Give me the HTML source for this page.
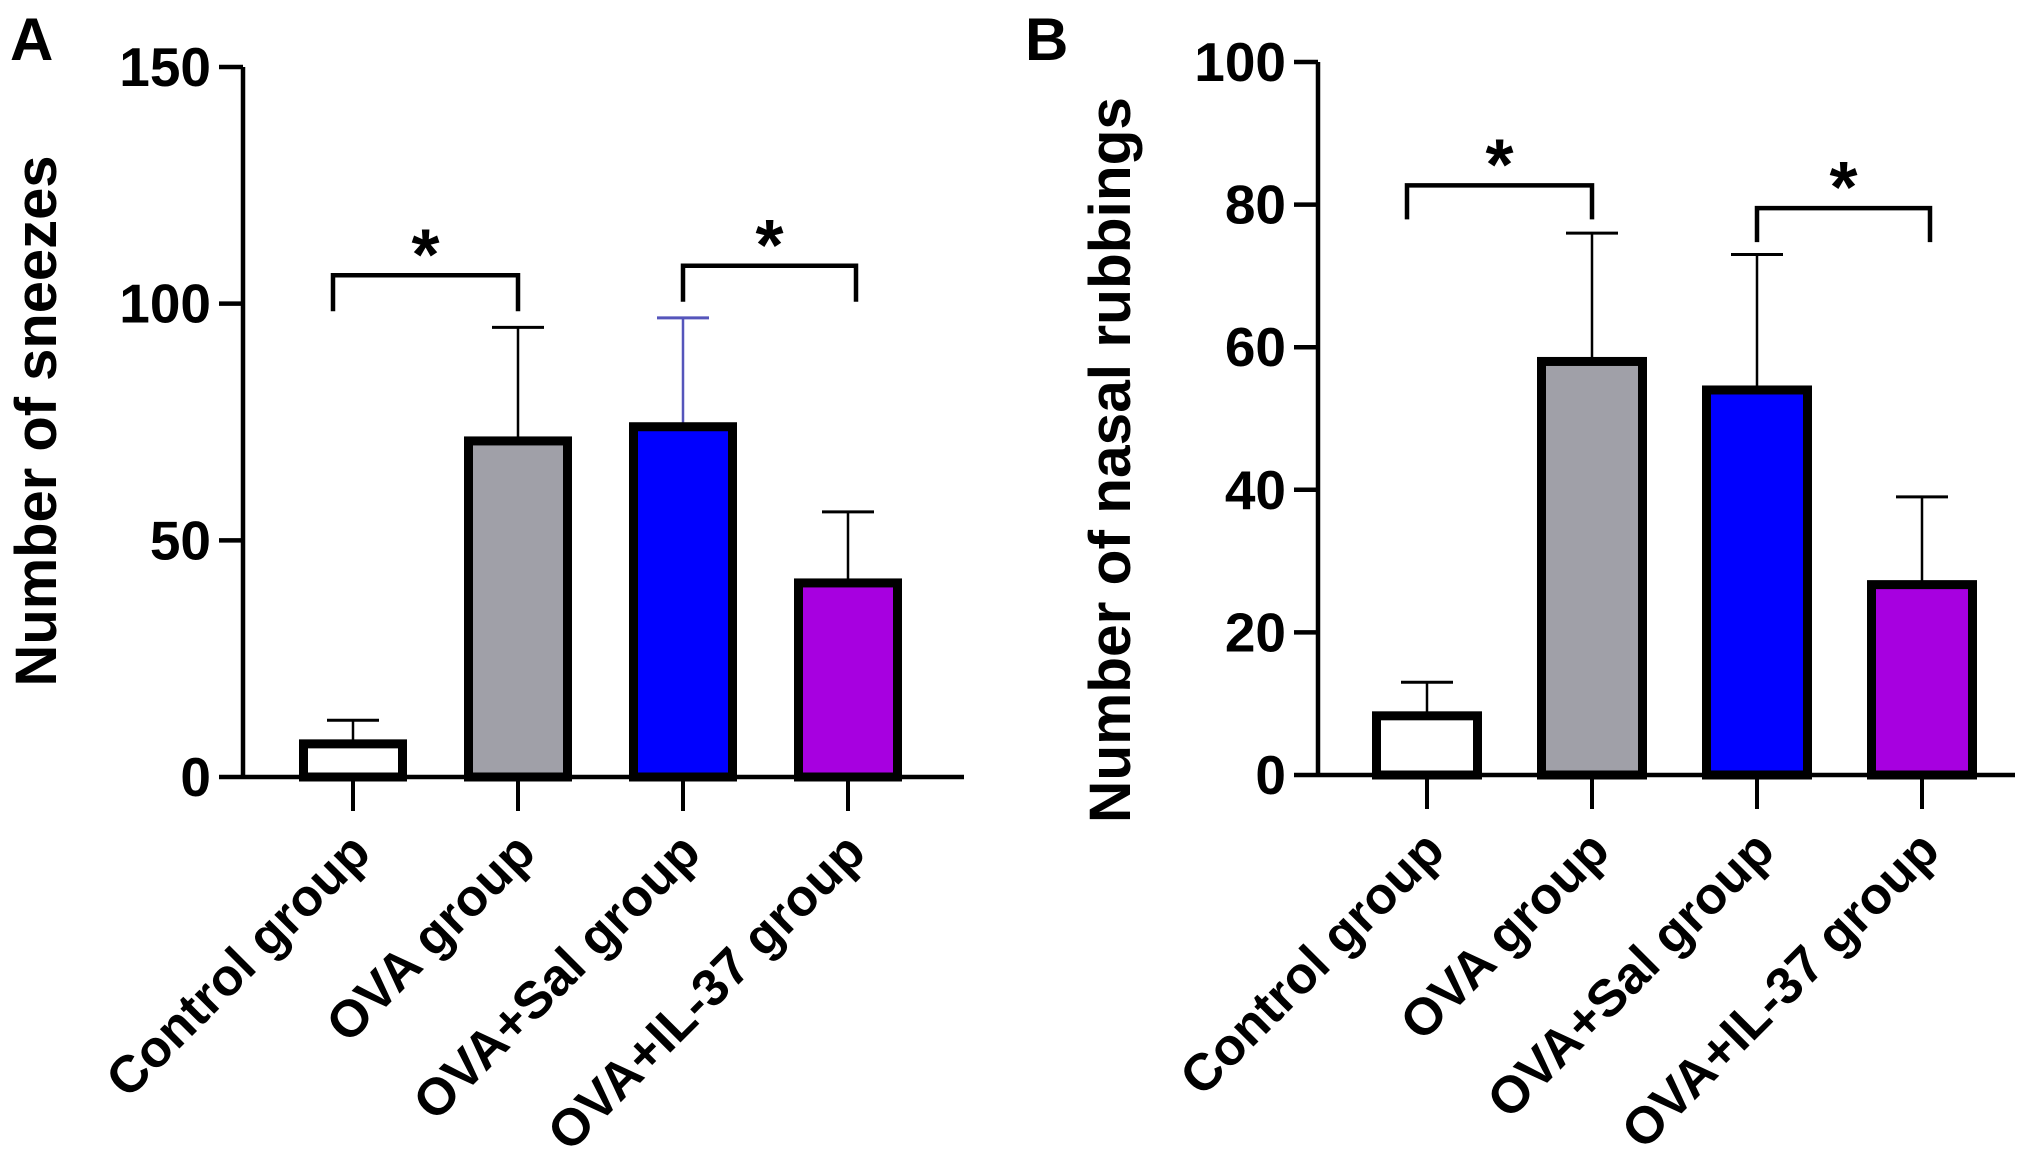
<!DOCTYPE html>
<html><head><meta charset="utf-8"><style>
html,body{margin:0;padding:0;background:#fff;}
svg{display:block;font-family:"Liberation Sans",Arial,sans-serif;font-weight:bold;}
</style></head>
<body>
<svg id="fig" width="2031" height="1176" viewBox="0 0 2031 1176" xmlns="http://www.w3.org/2000/svg"></svg>
<script>
const categories = ["Control group","OVA group","OVA+Sal group","OVA+IL-37 group"];
const sneezeMeans = [7, 71, 74, 41];
const sneezeErrors = [12, 95, 97, 56];
const rubMeans = [8.3, 58, 54, 26.7];
const rubErrors = [13, 76, 73, 39];
const sneezeTicks = [0, 50, 100, 150];
const rubTicks = [0, 20, 40, 60, 80, 100];
const barColors = ["#ffffff","#a0a0a8","#0000ff","#a700e0"];
const sneezeSig = [[0,1,106],[2,3,108]];
const rubSig = [[0,1,82.7],[2,3,79.5]];

const NS="http://www.w3.org/2000/svg";
const svg=document.getElementById('fig');
function mk(tag,attrs,parent){const e=document.createElementNS(NS,tag);for(const k in attrs)e.setAttribute(k,attrs[k]);(parent||svg).appendChild(e);return e;}

function panel(cfg){
  const g=mk('g',{});
  
  
  const y=v=>cfg.y0-(v-cfg.vmin)/(cfg.vmax-cfg.vmin)*(cfg.y0-cfg.y1);
  const xc=i=>cfg.xStart+i*cfg.step;
  cfg.means.forEach((m,i)=>{
    const cx=xc(i);
    const col=(cfg.errColors&&cfg.errColors[i])||'#000';
    const el=mk('line',{x1:cx,x2:cx,y1:y(m),y2:y(cfg.errs[i]),stroke:col,'stroke-width':2.5},g);
    
    
    const cap=mk('line',{x1:cx-cfg.cap/2,x2:cx+cfg.cap/2,y1:y(cfg.errs[i]),y2:y(cfg.errs[i]),stroke:col,'stroke-width':3},g);
    
    
    const r=mk('rect',{x:cx-cfg.bw/2,y:y(m),width:cfg.bw,height:y(0)-y(m),fill:barColors[i],stroke:'#000','stroke-width':9},g);
    
    
  });
  const ya=mk('line',{x1:cfg.ax,x2:cfg.ax,y1:y(cfg.vmax),y2:y(0)+2,stroke:'#000','stroke-width':4.5},g);
  
  
  const xa=mk('line',{x1:cfg.ax-24,x2:cfg.axEnd,y1:y(0),y2:y(0),stroke:'#000','stroke-width':4.5},g);
  
  
  cfg.ticks.forEach(t=>{
    if(t!==0){mk('line',{x1:cfg.ax-24,x2:cfg.ax,y1:y(t),y2:y(t),stroke:'#000','stroke-width':4.5},g);}
    const tl=mk('text',{x:cfg.ax-32,y:y(t)+19,'text-anchor':'end','font-size':55},g);
    tl.textContent=t;
    
    
  });
  categories.forEach((c,i)=>{
    const cx=xc(i);
    mk('line',{x1:cx,x2:cx,y1:y(0),y2:y(0)+34,stroke:'#000','stroke-width':4},g);
    const t=mk('text',{x:0,y:0,'text-anchor':'end','font-size':52,transform:`translate(${cx+20},${y(0)+78}) rotate(-45)`},g);
    t.textContent=c;
    
    
  });
  cfg.sig.forEach((s,k)=>{
    const x1=xc(s[0])+(k===0?-20:0),x2=xc(s[1])+(k===1?8:0),yy=y(s[2]);
    const p=mk('path',{d:`M${x1},${yy+cfg.leg} V${yy} H${x2} V${yy+cfg.leg}`,fill:'none',stroke:'#000','stroke-width':4.5},g);
    
    
    const st=mk('text',{x:(x1+x2)/2,y:yy+4,'text-anchor':'middle','font-size':72},g);
    st.textContent='*';
    
    
  });
  const tt=mk('text',{x:0,y:0,'text-anchor':'middle','font-size':58,textLength:cfg.titleLen,lengthAdjust:'spacingAndGlyphs',transform:`translate(${cfg.titleX},${cfg.titleY}) rotate(-90)`},g);
  tt.textContent=cfg.title;
  
  
  const pl=mk('text',{x:cfg.letterX,y:60,'font-size':60},g);
  pl.textContent=cfg.letter;
  
  
}

panel({name:'panel-a-sneezes',means:sneezeMeans,errs:sneezeErrors,ticks:sneezeTicks,sig:sneezeSig,
  vmin:0,vmax:150,y0:777,y1:67,ax:243,axEnd:964,xStart:353,step:165,bw:99,cap:52,leg:36,
  errColors:['#000','#000','#5555bb','#000'],title:'Number of sneezes',titleLen:531,titleX:56,titleY:421,letter:'A',letterX:10});
panel({name:'panel-b-nasal-rubbings',means:rubMeans,errs:rubErrors,ticks:rubTicks,sig:rubSig,
  vmin:0,vmax:100,y0:775,y1:62,ax:1318,axEnd:2015,xStart:1427,step:165,bw:101,cap:52,leg:34,
  title:'Number of  nasal rubbings',titleLen:726,titleX:1130,titleY:460,letter:'B',letterX:1025});
</script>
</body></html>
